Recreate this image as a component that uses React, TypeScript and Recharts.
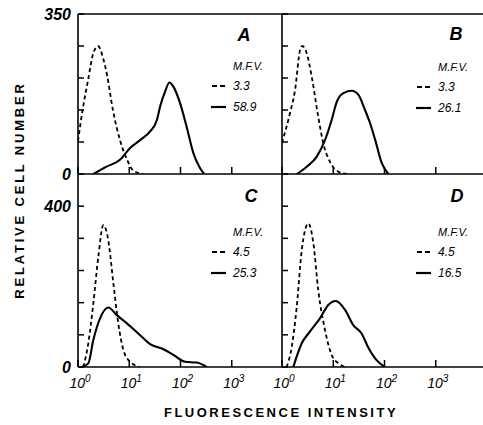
import { LineChart, Line, XAxis, YAxis, ReferenceLine } from "recharts";

// fluorescence intensity (x) vs relative cell number (y)
const aDashed = [
  { x: 1, y: 72 }, { x: 1.25, y: 145 }, { x: 1.57, y: 205 }, { x: 1.96, y: 262 },
  { x: 2.46, y: 280 }, { x: 3.08, y: 254 }, { x: 3.68, y: 217 }, { x: 4.8, y: 140 },
  { x: 6.6, y: 74 }, { x: 9.1, y: 31 }, { x: 11.8, y: 8 }, { x: 18.6, y: 0 },
];
const aSolid = [
  { x: 2.0, y: 0 }, { x: 3.6, y: 16 }, { x: 6.6, y: 31 }, { x: 10.4, y: 57 },
  { x: 16.3, y: 74 }, { x: 25.5, y: 93 }, { x: 34.6, y: 118 }, { x: 39.9, y: 147 },
  { x: 50, y: 180 }, { x: 60.7, y: 200 }, { x: 72.6, y: 191 }, { x: 98, y: 155 },
  { x: 132, y: 103 }, { x: 179, y: 45 }, { x: 240, y: 13 }, { x: 290, y: 0 },
];
const bDashed = [
  { x: 1, y: 68 }, { x: 1.43, y: 133 }, { x: 1.8, y: 184 }, { x: 2.25, y: 271 },
  { x: 2.49, y: 280 }, { x: 3.04, y: 264 }, { x: 3.8, y: 213 }, { x: 5.1, y: 125 },
  { x: 6.4, y: 67 }, { x: 8.6, y: 27 }, { x: 12.6, y: 5 }, { x: 18.4, y: 0 },
];
const bSolid = [
  { x: 1.94, y: 0 }, { x: 3.04, y: 16 }, { x: 4.77, y: 38 }, { x: 6.9, y: 74 },
  { x: 9.3, y: 118 }, { x: 11.7, y: 158 }, { x: 15.8, y: 177 }, { x: 23, y: 182 },
  { x: 31, y: 173 }, { x: 41.7, y: 140 }, { x: 52.4, y: 111 }, { x: 66, y: 74 },
  { x: 89, y: 23 }, { x: 119, y: 0 },
];
const cDashed = [
  { x: 1.27, y: 0 }, { x: 1.59, y: 59 }, { x: 1.99, y: 158 }, { x: 2.49, y: 274 },
  { x: 3.12, y: 353 }, { x: 3.9, y: 315 }, { x: 4.9, y: 208 }, { x: 6.1, y: 109 },
  { x: 7.7, y: 42 }, { x: 10.4, y: 13 }, { x: 16.3, y: 0 },
];
const cSolid = [
  { x: 1.18, y: 0 }, { x: 1.59, y: 9 }, { x: 1.99, y: 67 }, { x: 2.69, y: 121 },
  { x: 3.9, y: 148 }, { x: 5.7, y: 129 }, { x: 8.9, y: 109 }, { x: 16.3, y: 79 },
  { x: 25.5, y: 57 }, { x: 46.5, y: 44 }, { x: 72.6, y: 30 }, { x: 123, y: 13 },
  { x: 208, y: 11 }, { x: 325, y: 0 },
];
const dDashed = [
  { x: 1.23, y: 0 }, { x: 1.55, y: 50 }, { x: 1.94, y: 150 }, { x: 2.43, y: 291 },
  { x: 3.27, y: 357 }, { x: 4.1, y: 307 }, { x: 5.1, y: 191 }, { x: 6.9, y: 92 },
  { x: 9.3, y: 30 }, { x: 12.6, y: 9 }, { x: 17, y: 0 },
];
const dSolid = [
  { x: 1.66, y: 0 }, { x: 2.43, y: 59 }, { x: 3.5, y: 88 }, { x: 5.5, y: 121 },
  { x: 8.0, y: 154 }, { x: 11.2, y: 164 }, { x: 17, y: 142 }, { x: 24.6, y: 104 },
  { x: 35.5, y: 84 }, { x: 47.7, y: 50 }, { x: 70, y: 17 }, { x: 102, y: 0 },
];

const xTicks = [1, 10, 100, 1000];
const topYTicks = [0, 70, 140, 210, 280, 350];
const topYLabels = [0, 350];
const bottomYTicks = [0, 80, 160, 240, 320, 400];
const bottomYLabels = [0, 400];

const panelLetters = ["A", "B", "C", "D"];
const mfvDashed = ["3.3", "3.3", "4.5", "4.5"];
const mfvSolid = ["58.9", "26.1", "25.3", "16.5"];

const FONT = "'Liberation Sans', Arial, sans-serif";
const W = 490;
const H = 425;
const PLOT_W = 205; // 4 decades

const YTick = (props: any) => {
  const { x, y, payload, labels } = props;
  const v = payload.value;
  if (!labels || !labels.includes(v)) return <g />;
  return (
    <text x={x - 7} y={y + 6} textAnchor="end" fontFamily={FONT} fontSize={16}
      fontWeight="bold" fontStyle="italic" fill="#000">
      {v}
    </text>
  );
};

const XTick = (props: any) => {
  const { x, y, payload, showLabel } = props;
  const exp = Math.round(Math.log10(payload.value));
  if (!showLabel) return <g />;
  return (
    <text x={x + 2} y={y + 21} textAnchor="middle" fontFamily={FONT} fontSize={14}
      fontStyle="italic" fill="#000">
      10<tspan dy={-6} fontSize={10}>{exp}</tspan>
    </text>
  );
};

function Panel({ dashed, solid, left, top, bottom, yMax, yTicks, yLabels, showX, topLine }: any) {
  const yw = 20;
  return (
    <div style={{ position: "absolute", left: 0, top: 0 }}>
      <LineChart
        width={W}
        height={H}
        margin={{ top, left: left - yw, right: W - left - PLOT_W, bottom: H - bottom - 20 }}
      >
        {/* negative tickSize puts the tick marks inside the plot */}
        <XAxis
          dataKey="x"
          type="number"
          scale="log"
          domain={[1, 10000]}
          allowDataOverflow
          ticks={xTicks}
          interval={0}
          height={20}
          tickSize={-7}
          tickMargin={7}
          tickLine={{ stroke: "#000", strokeWidth: 1.5 }}
          axisLine={{ stroke: "#000", strokeWidth: 1.6 }}
          tick={<XTick showLabel={showX} />}
        />
        <YAxis
          type="number"
          domain={[0, yMax]}
          allowDataOverflow
          ticks={yTicks}
          interval={0}
          width={yw}
          tickSize={-6}
          tickMargin={6}
          tickLine={{ stroke: "#000", strokeWidth: 1.5 }}
          axisLine={{ stroke: "#000", strokeWidth: 1.6 }}
          tick={<YTick labels={yLabels} />}
        />
        {topLine && <ReferenceLine y={yMax} stroke="#000" strokeWidth={1.4} />}
        <Line
          data={dashed}
          dataKey="y"
          type="monotone"
          stroke="#000"
          strokeWidth={1.8}
          strokeDasharray="4 3"
          dot={false}
          isAnimationActive={false}
        />
        <Line
          data={solid}
          dataKey="y"
          type="monotone"
          stroke="#000"
          strokeWidth={2.1}
          dot={false}
          isAnimationActive={false}
        />
      </LineChart>
    </div>
  );
}

function Legend({ x, y, letterX, letterY, i }: any) {
  return (
    <g fontFamily={FONT} fill="#000">
      <text x={letterX} y={letterY} textAnchor="middle" fontSize={18} fontWeight="bold" fontStyle="italic">
        {panelLetters[i]}
      </text>
      <text x={x} y={y} fontSize={11} fontStyle="italic">M.F.V.</text>
      <line x1={x - 21} x2={x - 8} y1={y + 16} y2={y + 16} stroke="#000" strokeWidth={1.8} strokeDasharray="5 3" />
      <text x={x} y={y + 20} fontSize={12} fontStyle="italic">{mfvDashed[i]}</text>
      <line x1={x - 22} x2={x - 7} y1={y + 37} y2={y + 37} stroke="#000" strokeWidth={2.2} />
      <text x={x} y={y + 41} fontSize={12} fontStyle="italic">{mfvSolid[i]}</text>
    </g>
  );
}

export default function App() {
  return (
    <div style={{ position: "absolute", left: 0, top: 0, width: 483, height: 425, overflow: "hidden", background: "#fff" }}>
      <Panel dashed={aDashed} solid={aSolid} left={78} top={14} bottom={174} yMax={350}
        yTicks={topYTicks} yLabels={topYLabels} showX={false} topLine />
      <Panel dashed={bDashed} solid={bSolid} left={282} top={14} bottom={174} yMax={350}
        yTicks={topYTicks} yLabels={null} showX={false} topLine />
      <Panel dashed={cDashed} solid={cSolid} left={78} top={174} bottom={367} yMax={480}
        yTicks={bottomYTicks} yLabels={bottomYLabels} showX />
      <Panel dashed={dDashed} solid={dSolid} left={282} top={174} bottom={367} yMax={480}
        yTicks={bottomYTicks} yLabels={null} showX />
      <svg width={483} height={425} style={{ position: "absolute", left: 0, top: 0, pointerEvents: "none" }}>
        <Legend i={0} x={233} y={70} letterX={244} letterY={41} />
        <Legend i={1} x={438} y={71} letterX={456} letterY={40} />
        <Legend i={2} x={233} y={236} letterX={251} letterY={202} />
        <Legend i={3} x={438} y={236} letterX={457} letterY={202} />
        <text x={0} y={0} transform="translate(24,190) rotate(-90)" textAnchor="middle"
          fontFamily={FONT} fontSize={13} fontWeight="bold" letterSpacing={2.8} fill="#000">
          RELATIVE CELL NUMBER
        </text>
        <text x={281} y={417} textAnchor="middle" fontFamily={FONT} fontSize={13}
          fontWeight="bold" letterSpacing={2.5} fill="#000">
          FLUORESCENCE INTENSITY
        </text>
      </svg>
    </div>
  );
}
